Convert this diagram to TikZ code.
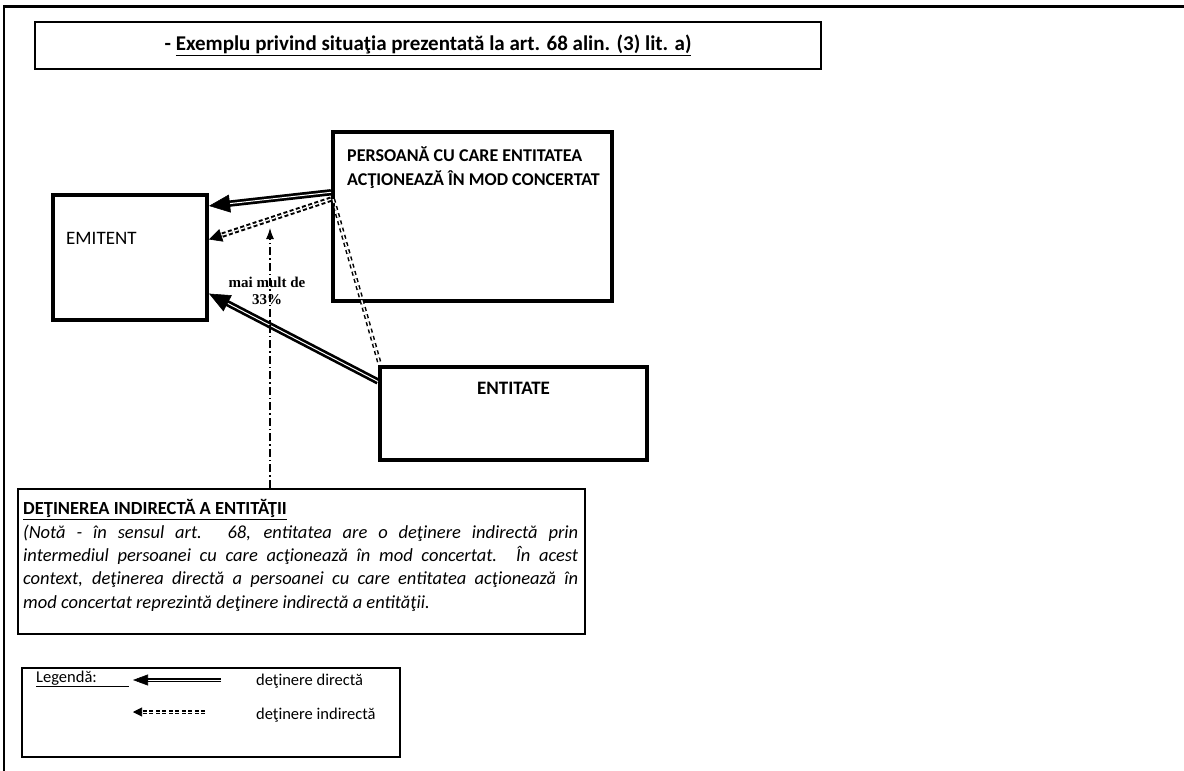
\documentclass[tikz,border=0pt]{standalone}
\usepackage{fontspec}
\setmainfont{Carlito}
\newfontfamily\serifbold{Liberation Serif}
\usetikzlibrary{arrows.meta,calc}
\begin{document}
\begin{tikzpicture}[x=1pt,y=-1pt,
  box/.style={draw, rectangle, inner sep=0pt, fill=white},
  lbl/.style={inner sep=0pt, font=\fontsize{18}{22}\selectfont},
  legl/.style={inner sep=0pt, font=\fontsize{16.5}{20}\selectfont},
  dirline/.style={draw=black, line width=2.7pt, double=white, double distance=1pt, shorten >=16pt},
  dirtip/.style={-{Triangle[length=21pt,width=18pt]}, line width=0.6pt},
  indline/.style={draw=black, line width=2pt, double=white, double distance=1.3pt, dash pattern=on 4pt off 2.5pt, shorten >=10pt},
  indtip/.style={-{Triangle[length=13pt,width=13pt]}, line width=0.6pt},
  tieline/.style={draw=black, line width=1.5pt, double=white, double distance=1.4pt, dash pattern=on 4pt off 3.5pt},
  dashdot/.style={line width=1.1pt, dash pattern=on 8pt off 3pt on 1.5pt off 3pt, -{Latex[length=11pt,width=8pt]}}
]
\useasboundingbox (0,0) rectangle (1184,771);
\fill[white] (0,0) rectangle (1184,771);
\draw[line width=1.6pt] (4,771) -- (4,6);
\draw[line width=3pt] (3,6) -- (1184,6);

% title
\node[box, line width=2.5pt, minimum width=786pt, minimum height=47pt,
      font=\bfseries\fontsize{21}{25}\selectfont] (title) at (428,45.5)
  {- \underline{Exemplu privind situaţia prezentată la art. 68 alin. (3) lit. a)}};

% boxes
\node[box, line width=4pt, minimum width=154pt, minimum height=125pt] (emit) at (130,257.5) {};
\node[box, line width=4pt, minimum width=279pt, minimum height=169pt] (pers) at (472.5,216.5) {};
\node[box, line width=4pt, minimum width=267pt, minimum height=93pt] (ent) at (513.5,413.5) {};
\node[box, line width=2.8pt, minimum width=567pt, minimum height=145pt] (det) at (301.5,561.5) {};
\node[box, line width=1.4pt, minimum width=378pt, minimum height=89pt] (leg) at (211,712.5) {};

% box texts
\node[lbl, anchor=west, font=\fontsize{19}{22}\selectfont] (emittext) at (66,238) {EMITENT};
\node[lbl, anchor=north west, align=left, font=\bfseries\fontsize{18}{24}\selectfont] (perstext) at (347,147)
  {PERSOANĂ CU CARE ENTITATEA\\ACŢIONEAZĂ ÎN MOD CONCERTAT};
\node[lbl, font=\bfseries\fontsize{19}{22}\selectfont] (enttext) at (513.5,388) {ENTITATE};
\node[lbl, anchor=north west, text width=555pt, align=justify,
      font=\fontsize{18.5}{23.3}\selectfont] (dettext) at (23,499.5)
  {\textbf{\underline{DEŢINEREA INDIRECTĂ A ENTITĂŢII}}\\
   \textit{(Notă - în sensul art. 68, entitatea are o deţinere indirectă prin\linebreak intermediul persoanei cu care acţionează în mod concertat. În acest\linebreak context, deţinerea directă a persoanei cu care entitatea acţionează în\linebreak mod concertat reprezintă deţinere indirectă a entităţii.}};

% label
\node[inner sep=0pt, align=center, font=\serifbold\bfseries\fontsize{15}{16.5}\selectfont] (pct) at (267,291)
  {mai mult de\\33\%};

% connector coordinates
\coordinate (pA) at ($(pers.north west)!0.36!(pers.south west)$);
\coordinate (eA) at ($(emit.north east)!0.10!(emit.south east)$);
\coordinate (pB) at ($(pers.north west)!0.40!(pers.south west)$);
\coordinate (eB) at ($(emit.north east)!0.36!(emit.south east)$);
\coordinate (nA) at ($(ent.north west)!0.17!(ent.south west)$);
\coordinate (eC) at ($(emit.north east)!0.78!(emit.south east)$);
\coordinate (pC) at ($(pB)+(2,0)$);
\coordinate (nB) at ($(ent.north west)+(2,0)$);
\coordinate (dA) at (det.north -| 270,0);
\coordinate (dB) at (270,228);

% connectors
\draw[tieline] (pC) -- (nB);
\draw[dirline] (pA) -- (eA);
\draw[dirtip] ($(eA)!19pt!(pA)$) -- (eA);
\draw[indline] (pB) -- (eB);
\draw[indtip] ($(eB)!11pt!(pB)$) -- (eB);
\draw[dirline] (nA) -- (eC);
\draw[dirtip] ($(eC)!19pt!(nA)$) -- (eC);
\draw[dashdot] (dA) -- (dB);

% legend
\node[legl, anchor=west] (legtext) at (36,679) {\underline{Legendă:\hspace{32pt}}};
\coordinate (l1s) at (221,680);
\coordinate (l1e) at (133,680);
\coordinate (l2s) at (205,712);
\coordinate (l2e) at (133,712);
\draw[dirline, line width=1.6pt, double distance=1pt, shorten >=12pt] (l1s) -- (l1e);
\draw[-{Triangle[length=15pt,width=11pt]}, line width=0.6pt] ($(l1e)!13pt!(l1s)$) -- (l1e);
\draw[indline, line width=1.4pt, double distance=1pt, shorten >=7pt] (l2s) -- (l2e);
\draw[-{Triangle[length=9pt,width=9pt]}, line width=0.6pt] ($(l2e)!8pt!(l2s)$) -- (l2e);
\node[legl, anchor=west] (legdir) at (256,681) {deţinere directă};
\node[legl, anchor=west] (legind) at (256,715) {deţinere indirectă};
\end{tikzpicture}
\end{document}
